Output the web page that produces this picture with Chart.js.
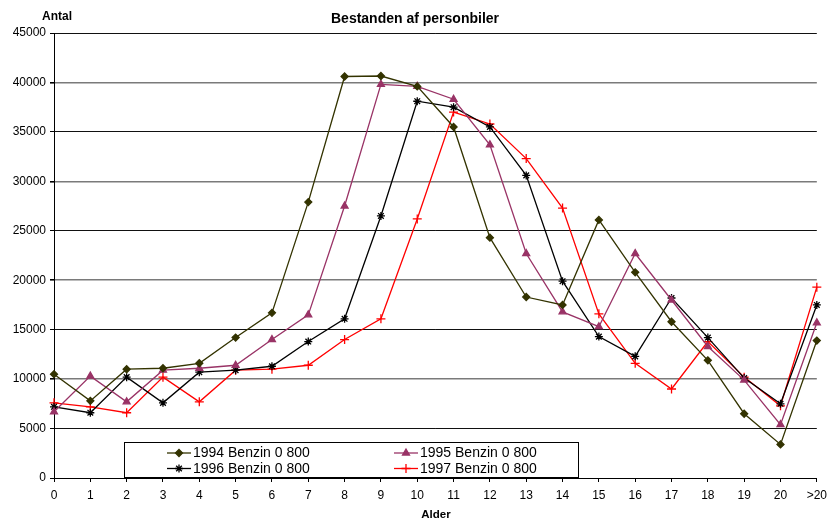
<!DOCTYPE html>
<html>
<head>
<meta charset="utf-8">
<script src="https://cdn.jsdelivr.net/npm/chart.js@4/dist/chart.umd.min.js"></script>
<style>
  html, body { margin: 0; padding: 0; background: #fff; }
  #wrap { width: 833px; height: 520px; }
</style>
</head>
<body>
<div id="wrap"><canvas id="bilChart" width="833" height="520"></canvas></div>
<script>
const FONT = '"Liberation Sans", Arial, Helvetica, sans-serif';

const ages = ['0', '1', '2', '3', '4', '5', '6', '7', '8', '9', '10',
  '11', '12', '13', '14', '15', '16', '17', '18', '19', '20', '>20'];

const benzin1994 = [10500, 7800, 11000, 11100, 11600, 14200, 16700, 27900, 40600, 40650, 39600,
  35500, 24300, 18300, 17500, 26100, 20800, 15800, 11900, 6500, 3400, 13900];
const benzin1995 = [6700, 10300, 7700, 10900, 11100, 11400, 14000, 16500, 27500, 39800, 39600,
  38300, 33700, 22700, 16800, 15300, 22700, 18000, 13300, 9900, 5400, 15700];
const benzin1996 = [7200, 6600, 10200, 7600, 10700, 10900, 11300, 13800, 16100, 26500, 38100,
  37500, 35500, 30600, 19900, 14300, 12300, 18200, 14200, 10100, 7500, 17500];
const benzin1997 = [7600, 7200, 6600, 10200, 7700, 10900, 11000, 11400, 14000, 16100, 26200,
  37000, 35800, 32300, 27300, 16600, 11600, 9000, 13800, 10200, 7300, 19300];

const yTicks = [0, 5000, 10000, 15000, 20000, 25000, 30000, 35000, 40000, 45000];

function serie(label, data, color, style, radius) {
  return {
    label: label,
    data: data,
    borderColor: color,
    backgroundColor: color,
    borderWidth: 1.3,
    pointStyle: style,
    pointRadius: radius,
    pointHoverRadius: radius,
    pointBorderColor: color,
    pointBackgroundColor: color,
    pointBorderWidth: 1.3,
    tension: 0,
    clip: false
  };
}

// legend box sitting inside the plot, two columns / two rows
const boxLegend = {
  id: 'boxLegend',
  afterDatasetsDraw(chart) {
    const ctx = chart.ctx;
    const box = { x: 124.5, y: 442.5, w: 454, h: 35 };
    ctx.save();
    ctx.fillStyle = '#fff';
    ctx.strokeStyle = '#000';
    ctx.lineWidth = 1;
    ctx.fillRect(box.x, box.y, box.w, box.h);
    ctx.strokeRect(box.x, box.y, box.w, box.h);
    const cols = [167, 394];
    const rows = [453, 468.5];
    chart.data.datasets.forEach((ds, i) => {
      const x = cols[i % 2];
      const y = rows[Math.floor(i / 2)];
      ctx.strokeStyle = ds.borderColor;
      ctx.lineWidth = 1.3;
      ctx.beginPath();
      ctx.moveTo(x, y);
      ctx.lineTo(x + 24, y);
      ctx.stroke();
      ctx.fillStyle = ds.pointBackgroundColor;
      Chart.helpers.drawPoint(ctx, {
        pointStyle: ds.pointStyle, radius: ds.pointRadius, rotation: 0, borderWidth: 1.3
      }, x + 12, y);
      ctx.fillStyle = '#000';
      ctx.font = '14px ' + FONT;
      ctx.textAlign = 'left';
      ctx.textBaseline = 'middle';
      ctx.fillText(ds.label, x + 26, y + 0.5);
    });
    ctx.restore();
  }
};

// title and axis captions
const captions = {
  id: 'captions',
  afterDraw(chart) {
    const ctx = chart.ctx;
    ctx.save();
    ctx.fillStyle = '#000';
    ctx.textBaseline = 'middle';
    ctx.textAlign = 'center';
    ctx.font = 'bold 14px ' + FONT;
    ctx.fillText('Bestanden af personbiler', 415, 19);
    ctx.font = 'bold 12px ' + FONT;
    ctx.textAlign = 'left';
    ctx.fillText('Antal', 42, 17);
    ctx.font = 'bold 11.5px ' + FONT;
    ctx.textAlign = 'center';
    ctx.fillText('Alder', 436, 515);
    ctx.restore();
  }
};

new Chart(document.getElementById('bilChart').getContext('2d'), {
  type: 'line',
  data: {
    labels: ages,
    datasets: [
      serie('1994 Benzin 0 800', benzin1994, '#333300', 'rectRot', 3.5),
      serie('1995 Benzin 0 800', benzin1995, '#993366', 'triangle', 4),
      serie('1996 Benzin 0 800', benzin1996, '#000000', 'star', 4),
      serie('1997 Benzin 0 800', benzin1997, '#ff0000', 'cross', 4.5)
    ]
  },
  options: {
    responsive: false,
    animation: false,
    events: [],
    layout: { padding: { top: 33, right: 15, left: 0, bottom: 0 } },
    plugins: {
      legend: { display: false },
      title: { display: false },
      tooltip: { enabled: false }
    },
    scales: {
      x: {
        type: 'category',
        offset: false,
        afterFit: s => { s.height = 42; },
        grid: {
          drawOnChartArea: false,
          drawTicks: true,
          tickLength: 4,
          tickColor: '#000'
        },
        border: { display: true, color: '#000', width: 1 },
        ticks: {
          color: '#000',
          padding: 6,
          maxRotation: 0,
          autoSkip: false,
          font: { family: FONT, size: 12 }
        }
      },
      y: {
        min: yTicks[0],
        max: yTicks[yTicks.length - 1],
        afterFit: s => { s.width = 54; },
        afterBuildTicks: s => { s.ticks = yTicks.map(v => ({ value: v })); },
        grid: {
          color: c => (c.tick && c.tick.value % 10000 === 0 && c.tick.value !== 0) ? '#7a7a7a' : '#111',
          lineWidth: c => (c.tick && c.tick.value % 10000 === 0 && c.tick.value !== 0) ? 1.6 : 1,
          drawTicks: true,
          tickLength: 4,
          tickColor: '#000'
        },
        border: { display: true, color: '#000', width: 1 },
        ticks: {
          color: '#000',
          padding: 4,
          font: { family: FONT, size: 12 },
          callback: v => String(v)
        }
      }
    }
  },
  plugins: [boxLegend, captions]
});
</script>
</body>
</html>
